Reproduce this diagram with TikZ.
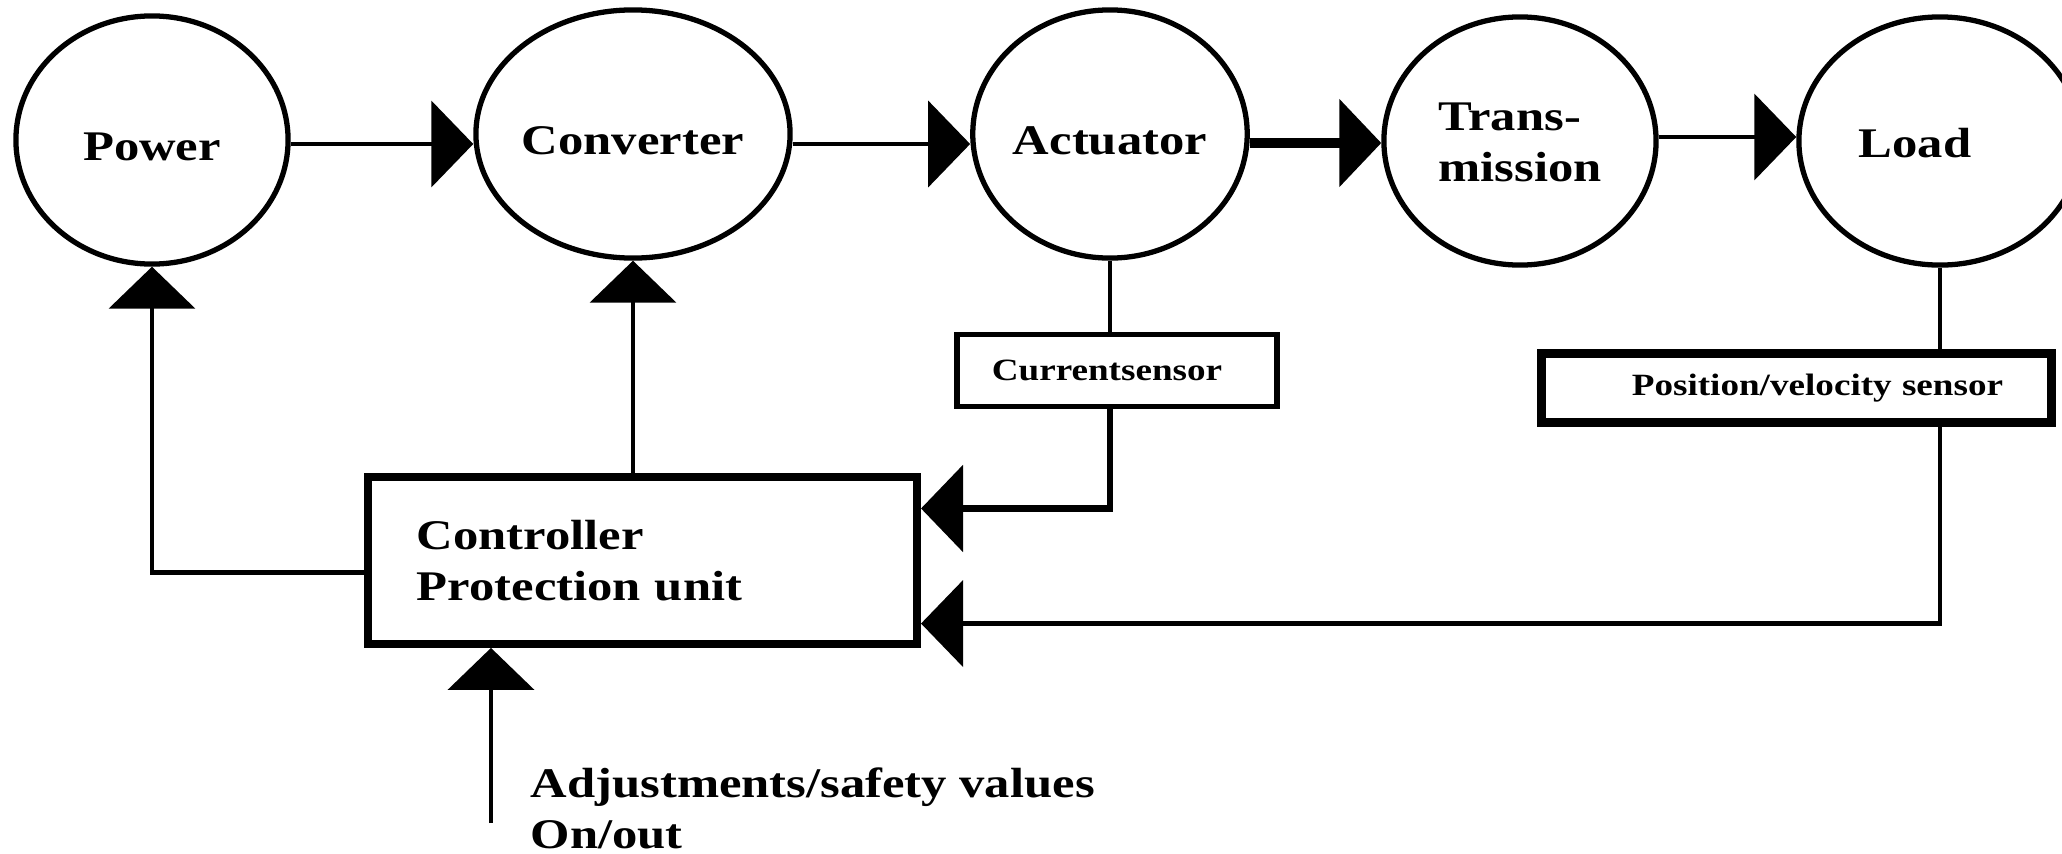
\documentclass[tikz,border=0pt]{standalone}
\usepackage{fontspec}
\setmainfont{Liberation Serif}[FakeStretch=1.2]
\usetikzlibrary{arrows.meta,shapes.geometric,calc}
\newcommand{\lowlbl}[2][0.07cm]{\raisebox{-#1}[\height][\depth]{#2}}
\begin{document}
\begin{tikzpicture}[x=0.01cm,y=-0.01cm,
  bigfont/.style={font=\bfseries\fontsize{12}{14.5}\selectfont},
  smallfont/.style={font=\bfseries\fontsize{8.8}{10}\selectfont},
  blk/.style={ellipse,draw,line width=1.5pt,inner sep=0pt,minimum width=2.72cm,minimum height=2.48cm,align=left,bigfont},
  conn/.style={line width=1.3pt},
  arr/.style={conn,-{Triangle[length=4.2mm,width=8.6mm]}}]
\useasboundingbox (0,0) rectangle (2062,854);

\node[blk] (pow) at (152,140) {\lowlbl{Power}};
\node[blk] (conv) at (633,134) {\lowlbl{Converter}};
\node[blk] (act) at (1110,134) {\lowlbl{Actuator}};
\node[blk] (trans) at (1520,141) {\lowlbl[0.05cm]{\begin{tabular}{@{}l@{}}Trans-\\mission\end{tabular}}};
\node[blk,minimum width=2.82cm] (load) at (1940,141) {\lowlbl[0.02cm]{Load}\hspace*{0.5cm}};

\node[draw,line width=2.2pt,minimum width=5.49cm,minimum height=1.67cm,text width=4.51cm,inner xsep=0.49cm,align=left,bigfont] (ctrl) at (642.5,560.5) {Controller\\Protection unit};
\node[draw,line width=1.6pt,minimum width=3.2cm,minimum height=0.72cm,inner sep=0pt,smallfont] (cs) at (1117,370.5) {Currentsensor\hspace*{0.2cm}};
\node[draw,line width=2.6pt,inner ysep=0pt,inner xsep=0.485cm,text width=4.13cm,align=right,minimum height=0.69cm,smallfont] (ps) at (1796.5,388) {Position/velocity sensor};

\draw[arr] ([yshift=-0.04cm]pow.east) -- ([yshift=-0.04cm]pow.east -| conv.west);
\draw[arr] ([yshift=-0.1cm]conv.east) -- ([yshift=-0.1cm]conv.east -| act.west);
\draw[arr,line width=2.8pt] ([yshift=-0.09cm]act.east) -- ([yshift=-0.09cm]act.east -| trans.west);
\draw[arr] ([yshift=0.04cm]trans.east) -- ([yshift=0.04cm]trans.east -| load.west);

\draw[arr] ([yshift=-0.12cm]ctrl.west) -| (pow.south);
\draw[arr] (conv.south |- ctrl.north) -- (conv.south);
\draw[conn] (act.south) -- (act.south |- cs.north);
\draw[arr,line width=1.8pt] (act.south |- cs.south) |- ([yshift=0.52cm]ctrl.east);
\draw[conn] (load.south) -- (load.south |- ps.north);
\draw[arr] (load.south |- ps.south) |- ([yshift=-0.63cm]ctrl.east);

\coordinate (adj) at (491,823);
\draw[arr] (adj) -- (adj |- ctrl.south);
\node[anchor=base west,align=left,inner sep=0pt,bigfont] (adjtxt) at (530,848) {Adjustments/safety values\\On/out};
\end{tikzpicture}
\end{document}
